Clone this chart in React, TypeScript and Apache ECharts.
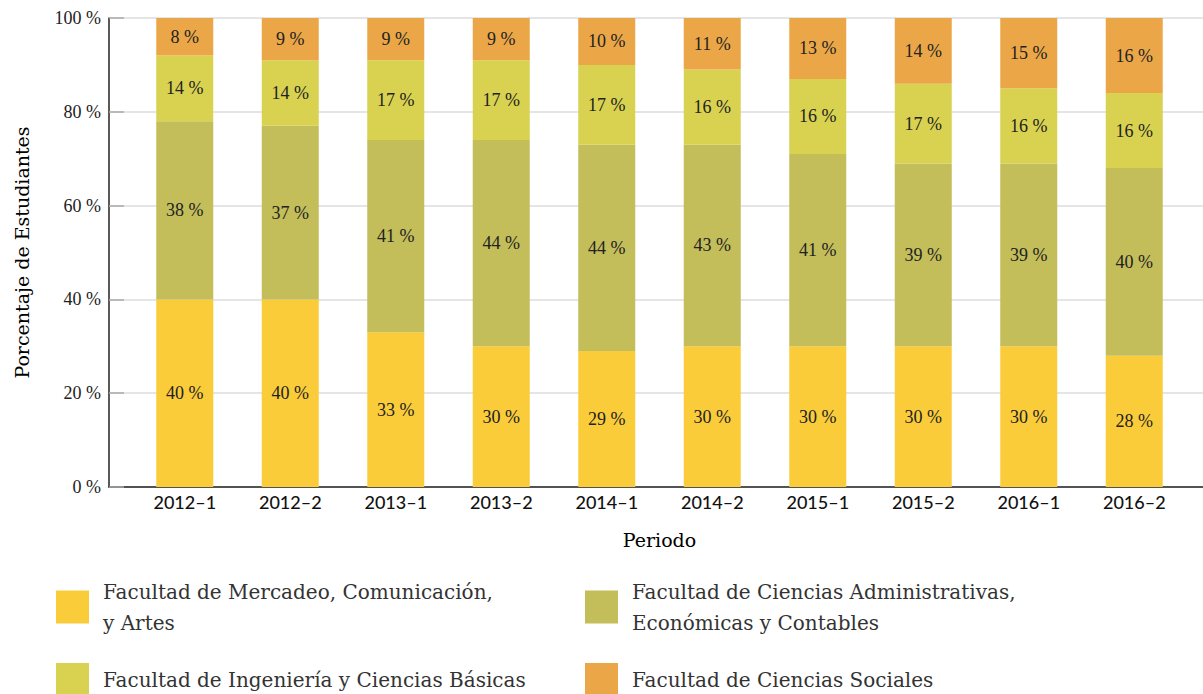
import React, { useEffect, useRef } from "react";
import * as echarts from "echarts";

const periods = ["2012–1", "2012–2", "2013–1", "2013–2", "2014–1", "2014–2", "2015–1", "2015–2", "2016–1", "2016–2"];
const mercadeo = [40, 40, 33, 30, 29, 30, 30, 30, 30, 28];
const administrativas = [38, 37, 41, 44, 44, 43, 41, 39, 39, 40];
const ingenieria = [14, 14, 17, 17, 17, 16, 16, 17, 16, 16];
const sociales = [8, 9, 9, 9, 10, 11, 13, 14, 15, 16];
const yTicks = [0, 20, 40, 60, 80, 100];

const seriesNames = [
  "Facultad de Mercadeo, Comunicación,\ny Artes",
  "Facultad de Ciencias Administrativas,\nEconómicas y Contables",
  "Facultad de Ingeniería y Ciencias Básicas",
  "Facultad de Ciencias Sociales",
];
const seriesColors = ["#FACC3A", "#C3BD5A", "#D9D250", "#EBA747"];
const seriesData = [mercadeo, administrativas, ingenieria, sociales];

const numFont = "Liberation Serif";
const legendFont = "DejaVu Serif";
const sansFont = "Lato";

export default function App() {
  const ref = useRef<HTMLDivElement>(null);
  useEffect(() => {
    document.body.style.margin = "0";
    const chart = echarts.init(ref.current!, null, { renderer: "svg" });
    const legendCommon = {
      orient: "vertical" as const,
      top: 576,
      padding: 0,
      itemWidth: 33,
      itemHeight: 33,
      itemGap: 25,
      icon: "rect",
      selectedMode: false,
      textStyle: {
        fontFamily: legendFont,
        fontSize: 20,
        lineHeight: 31,
        color: "#333",
        padding: [0, 0, 0, 9],
      },
    };
    const titleStyle = { fontFamily: legendFont, fontSize: 19, fontWeight: "normal", color: "#000" };
    chart.setOption({
      animation: false,
      backgroundColor: "#fff",
      grid: [
        { left: 109, right: 0, top: 18, bottom: 207 },
        { left: 132, right: 16, top: 18, bottom: 207 },
      ],
      legend: [
        { ...legendCommon, left: 56, data: [seriesNames[0], seriesNames[2]] },
        { ...legendCommon, left: 585, data: [seriesNames[1], seriesNames[3]] },
      ],
      xAxis: [
        {
          type: "value",
          gridIndex: 0,
          min: 0,
          max: 1,
          axisLine: { show: true, onZero: false, lineStyle: { color: "#222", width: 1.5 } },
          axisTick: { show: false },
          axisLabel: { show: false },
          splitLine: { show: false },
        },
        {
          type: "category",
          gridIndex: 1,
          data: periods,
          axisLine: { show: false },
          axisTick: { show: false },
          axisLabel: { fontFamily: sansFont, fontSize: 18, fontWeight: 500, color: "#111", margin: 6 },
          name: "Periodo",
          nameLocation: "middle",
          nameGap: 43,
          nameTextStyle: titleStyle,
        },
      ],
      yAxis: [
        {
          type: "value",
          gridIndex: 0,
          min: yTicks[0],
          max: yTicks[yTicks.length - 1],
          interval: 20,
          axisLine: { show: true, lineStyle: { color: "#222", width: 1.5 } },
          axisTick: { show: true, inside: true, length: 15, lineStyle: { color: "#aaa", width: 1.5 } },
          axisLabel: {
            formatter: (v: number) => `${v} %`,
            fontFamily: numFont,
            fontSize: 18,
            color: "#222",
            margin: 8,
          },
          splitLine: { show: true, lineStyle: { color: "#ddd", width: 1.5 } },
          name: "Porcentaje de Estudiantes",
          nameLocation: "middle",
          nameGap: 78,
          nameRotate: 90,
          nameTextStyle: titleStyle,
        },
        {
          type: "value",
          gridIndex: 1,
          min: 0,
          max: 100,
          show: false,
        },
      ],
      series: seriesData.map((data, i) => ({
        name: seriesNames[i],
        type: "bar",
        stack: "total",
        xAxisIndex: 1,
        yAxisIndex: 1,
        barWidth: 57,
        data,
        itemStyle: { color: seriesColors[i] },
        label: {
          show: true,
          position: "inside",
          formatter: "{c} %",
          fontFamily: numFont,
          fontSize: 18,
          color: "#222",
        },
      })),
    });
    return () => chart.dispose();
  }, []);
  return <div ref={ref} style={{ position: "absolute", left: 0, top: 0, width: 1203, height: 694 }} />;
}
